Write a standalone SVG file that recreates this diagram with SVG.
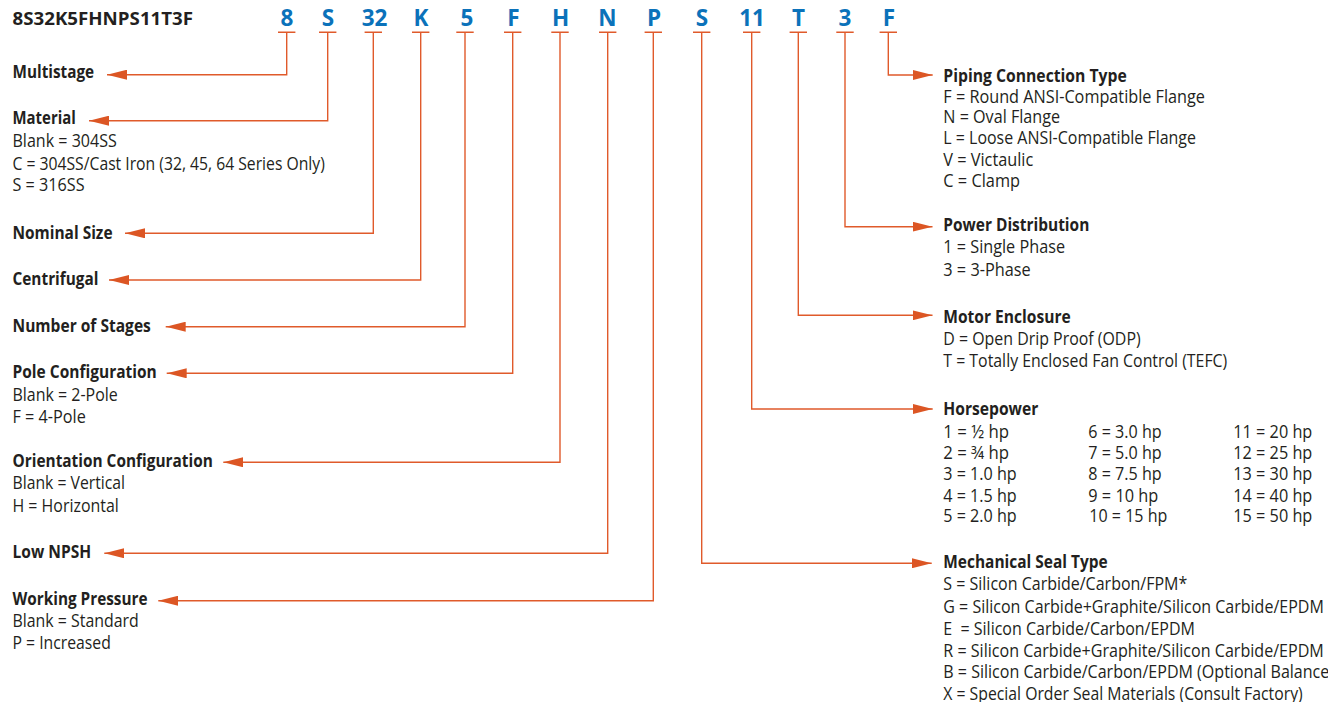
<svg xmlns="http://www.w3.org/2000/svg" width="1328" height="702" viewBox="0 0 1328 702">
<defs>
<style>
text{font-family:"Open Sans","Liberation Sans",sans-serif;fill:#231f20;}
.h{font-size:17.5px;font-weight:700;}
.t{font-size:17.5px;font-weight:400;}
.ttl{font-size:17px;font-weight:700;}
.code{font-size:22.5px;font-weight:700;fill:#0b72ba;text-anchor:middle;}
.ln{fill:none;stroke:#e05a2b;stroke-width:1.4;}
.tick{fill:none;stroke:#e05a2b;stroke-width:1.4;}
</style>
<marker id="ah" viewBox="0 0 20 10" refX="20" refY="5" markerWidth="20" markerHeight="10" markerUnits="userSpaceOnUse" orient="auto">
<path d="M0,0 L20,5 L0,10 z" fill="#dc5624"/>
</marker>
</defs>
<rect width="1328" height="702" fill="#ffffff"/>

<g id="title"><text class="ttl" x="12.5" y="25" textLength="180.6" lengthAdjust="spacingAndGlyphs">8S32K5FHNPS11T3F</text></g>

<g id="codes">
<g id="code-8"><text class="code" x="287" y="26">8</text></g>
<g id="code-S"><text class="code" x="328" y="26">S</text></g>
<g id="code-32"><text class="code" x="374.5" y="26">32</text></g>
<g id="code-K"><text class="code" x="421" y="26">K</text></g>
<g id="code-5"><text class="code" x="467" y="26">5</text></g>
<g id="code-F1"><text class="code" x="513.5" y="26">F</text></g>
<g id="code-H"><text class="code" x="560.5" y="26">H</text></g>
<g id="code-N"><text class="code" x="607.5" y="26">N</text></g>
<g id="code-P"><text class="code" x="654" y="26">P</text></g>
<g id="code-S2"><text class="code" x="702" y="26">S</text></g>
<g id="code-11"><text class="code" x="752" y="26">11</text></g>
<g id="code-T"><text class="code" x="798.5" y="26">T</text></g>
<g id="code-3"><text class="code" x="845" y="26">3</text></g>
<g id="code-F2"><text class="code" x="889" y="26">F</text></g>
</g>

<g id="connectors">
<path class="tick" d="M278,32.3h17.4 M319,32.3h17.4 M364.6,32.3h17.4 M412,32.3h17.4 M456.3,32.3h17.4 M504,32.3h17.4 M551.3,32.3h17.4 M599,32.3h17.4 M644.6,32.3h17.4 M693,32.3h17.4 M743,32.3h17.4 M789.6,32.3h17.4 M836.3,32.3h17.4 M879.6,32.3h17.4"/>
<path class="ln" d="M286.7,32.3V74.7H107" marker-end="url(#ah)"/>
<path class="ln" d="M327.7,32.3V120.7H89" marker-end="url(#ah)"/>
<path class="ln" d="M373.3,32.3V233.3H125" marker-end="url(#ah)"/>
<path class="ln" d="M420.7,32.3V280H109" marker-end="url(#ah)"/>
<path class="ln" d="M465,32.3V326.7H165.7" marker-end="url(#ah)"/>
<path class="ln" d="M512.7,32.3V373.3H166.7" marker-end="url(#ah)"/>
<path class="ln" d="M560,32.3V462.3H223.3" marker-end="url(#ah)"/>
<path class="ln" d="M607.7,32.3V553.3H104.3" marker-end="url(#ah)"/>
<path class="ln" d="M653.3,32.3V600.7H158.3" marker-end="url(#ah)"/>
<path class="ln" d="M701.7,32.3V563.3H931.7" marker-end="url(#ah)"/>
<path class="ln" d="M751.7,32.3V409H932.7" marker-end="url(#ah)"/>
<path class="ln" d="M798.3,32.3V315.3H932.5" marker-end="url(#ah)"/>
<path class="ln" d="M845,32.3V226.7H932.5" marker-end="url(#ah)"/>
<path class="ln" d="M888.3,32.3V75H932.7" marker-end="url(#ah)"/>
</g>

<g id="node-multistage"><text class="h" x="12.5" y="78" textLength="81.6" lengthAdjust="spacingAndGlyphs">Multistage</text></g>
<g id="node-material">
<text class="h" x="12.5" y="124" textLength="63.3" lengthAdjust="spacingAndGlyphs">Material</text>
<text class="t" x="12.5" y="147" textLength="104.3" lengthAdjust="spacingAndGlyphs">Blank = 304SS</text>
<text class="t" x="12.5" y="169.5" textLength="312.3" lengthAdjust="spacingAndGlyphs">C = 304SS/Cast Iron (32, 45, 64 Series Only)</text>
<text class="t" x="12.5" y="191" textLength="72" lengthAdjust="spacingAndGlyphs">S = 316SS</text>
</g>
<g id="node-nominal-size"><text class="h" x="12.5" y="239.3" textLength="100" lengthAdjust="spacingAndGlyphs">Nominal Size</text></g>
<g id="node-centrifugal"><text class="h" x="12.5" y="285" textLength="86" lengthAdjust="spacingAndGlyphs">Centrifugal</text></g>
<g id="node-stages"><text class="h" x="12.5" y="331.7" textLength="138.3" lengthAdjust="spacingAndGlyphs">Number of Stages</text></g>
<g id="node-pole">
<text class="h" x="12.5" y="378" textLength="144.3" lengthAdjust="spacingAndGlyphs">Pole Configuration</text>
<text class="t" x="12.5" y="401" textLength="105.3" lengthAdjust="spacingAndGlyphs">Blank = 2-Pole</text>
<text class="t" x="12.5" y="422.7" textLength="73.3" lengthAdjust="spacingAndGlyphs">F = 4-Pole</text>
</g>
<g id="node-orientation">
<text class="h" x="12.5" y="466.7" textLength="200.3" lengthAdjust="spacingAndGlyphs">Orientation Configuration</text>
<text class="t" x="12.5" y="489.3" textLength="112.6" lengthAdjust="spacingAndGlyphs">Blank = Vertical</text>
<text class="t" x="12.5" y="511.7" textLength="106.3" lengthAdjust="spacingAndGlyphs">H = Horizontal</text>
</g>
<g id="node-npsh"><text class="h" x="12.5" y="558.3" textLength="78.6" lengthAdjust="spacingAndGlyphs">Low NPSH</text></g>
<g id="node-pressure">
<text class="h" x="12.5" y="605" textLength="135" lengthAdjust="spacingAndGlyphs">Working Pressure</text>
<text class="t" x="12.5" y="626.7" textLength="126.3" lengthAdjust="spacingAndGlyphs">Blank = Standard</text>
<text class="t" x="12.5" y="649" textLength="98.3" lengthAdjust="spacingAndGlyphs">P = Increased</text>
</g>

<g id="node-piping">
<text class="h" x="943.3" y="81.7" textLength="183.4" lengthAdjust="spacingAndGlyphs">Piping Connection Type</text>
<text class="t" x="943.3" y="102.7" textLength="261.7" lengthAdjust="spacingAndGlyphs">F = Round ANSI-Compatible Flange</text>
<text class="t" x="943.3" y="123.3" textLength="116.7" lengthAdjust="spacingAndGlyphs">N = Oval Flange</text>
<text class="t" x="943.3" y="144" textLength="252.7" lengthAdjust="spacingAndGlyphs">L = Loose ANSI-Compatible Flange</text>
<text class="t" x="943.3" y="166" textLength="90" lengthAdjust="spacingAndGlyphs">V = Victaulic</text>
<text class="t" x="943.3" y="186.7" textLength="76.7" lengthAdjust="spacingAndGlyphs">C = Clamp</text>
</g>
<g id="node-power">
<text class="h" x="943.3" y="230.7" textLength="146" lengthAdjust="spacingAndGlyphs">Power Distribution</text>
<text class="t" x="943.3" y="253.3" textLength="121.7" lengthAdjust="spacingAndGlyphs">1 = Single Phase</text>
<text class="t" x="943.3" y="276" textLength="87.4" lengthAdjust="spacingAndGlyphs">3 = 3-Phase</text>
</g>
<g id="node-motor">
<text class="h" x="943.3" y="323.3" textLength="127.4" lengthAdjust="spacingAndGlyphs">Motor Enclosure</text>
<text class="t" x="943.3" y="345" textLength="197.4" lengthAdjust="spacingAndGlyphs">D = Open Drip Proof (ODP)</text>
<text class="t" x="943.3" y="366.7" textLength="284" lengthAdjust="spacingAndGlyphs">T = Totally Enclosed Fan Control (TEFC)</text>
</g>
<g id="node-horsepower">
<text class="h" x="943.3" y="415" textLength="95" lengthAdjust="spacingAndGlyphs">Horsepower</text>
<text class="t" x="943.3" y="438.3" textLength="65.7" lengthAdjust="spacingAndGlyphs">1 = ½ hp</text>
<text class="t" x="943.3" y="459" textLength="65.7" lengthAdjust="spacingAndGlyphs">2 = ¾ hp</text>
<text class="t" x="943.3" y="480" textLength="73.4" lengthAdjust="spacingAndGlyphs">3 = 1.0 hp</text>
<text class="t" x="943.3" y="501.5" textLength="73.4" lengthAdjust="spacingAndGlyphs">4 = 1.5 hp</text>
<text class="t" x="943.3" y="522" textLength="73.4" lengthAdjust="spacingAndGlyphs">5 = 2.0 hp</text>
<text class="t" x="1088.3" y="438.3" textLength="73.4" lengthAdjust="spacingAndGlyphs">6 = 3.0 hp</text>
<text class="t" x="1088.3" y="459" textLength="73.4" lengthAdjust="spacingAndGlyphs">7 = 5.0 hp</text>
<text class="t" x="1088.3" y="480" textLength="73.4" lengthAdjust="spacingAndGlyphs">8 = 7.5 hp</text>
<text class="t" x="1088.3" y="501.5" textLength="70" lengthAdjust="spacingAndGlyphs">9 = 10 hp</text>
<text class="t" x="1089.3" y="522" textLength="78" lengthAdjust="spacingAndGlyphs">10 = 15 hp</text>
<text class="t" x="1233.3" y="438.3" textLength="79" lengthAdjust="spacingAndGlyphs">11 = 20 hp</text>
<text class="t" x="1233.3" y="459" textLength="79" lengthAdjust="spacingAndGlyphs">12 = 25 hp</text>
<text class="t" x="1233.3" y="480" textLength="79" lengthAdjust="spacingAndGlyphs">13 = 30 hp</text>
<text class="t" x="1233.3" y="501.5" textLength="79" lengthAdjust="spacingAndGlyphs">14 = 40 hp</text>
<text class="t" x="1233.3" y="522" textLength="79" lengthAdjust="spacingAndGlyphs">15 = 50 hp</text>
</g>
<g id="node-seal">
<text class="h" x="943.3" y="568.3" textLength="164.4" lengthAdjust="spacingAndGlyphs">Mechanical Seal Type</text>
<text class="t" x="943.3" y="590" textLength="244" lengthAdjust="spacingAndGlyphs">S = Silicon Carbide/Carbon/FPM*</text>
<text class="t" x="943.3" y="612.7" textLength="380.5" lengthAdjust="spacingAndGlyphs">G = Silicon Carbide+Graphite/Silicon Carbide/EPDM</text>
<text class="t" x="943.3" y="635" textLength="251.7" lengthAdjust="spacingAndGlyphs" xml:space="preserve">E  = Silicon Carbide/Carbon/EPDM</text>
<text class="t" x="943.3" y="656.7" textLength="380.5" lengthAdjust="spacingAndGlyphs">R = Silicon Carbide+Graphite/Silicon Carbide/EPDM</text>
<text class="t" x="943.3" y="678.3" textLength="386" lengthAdjust="spacingAndGlyphs">B = Silicon Carbide/Carbon/EPDM (Optional Balance</text>
<text class="t" x="943.3" y="700" textLength="359.4" lengthAdjust="spacingAndGlyphs">X = Special Order Seal Materials (Consult Factory)</text>
</g>
</svg>
